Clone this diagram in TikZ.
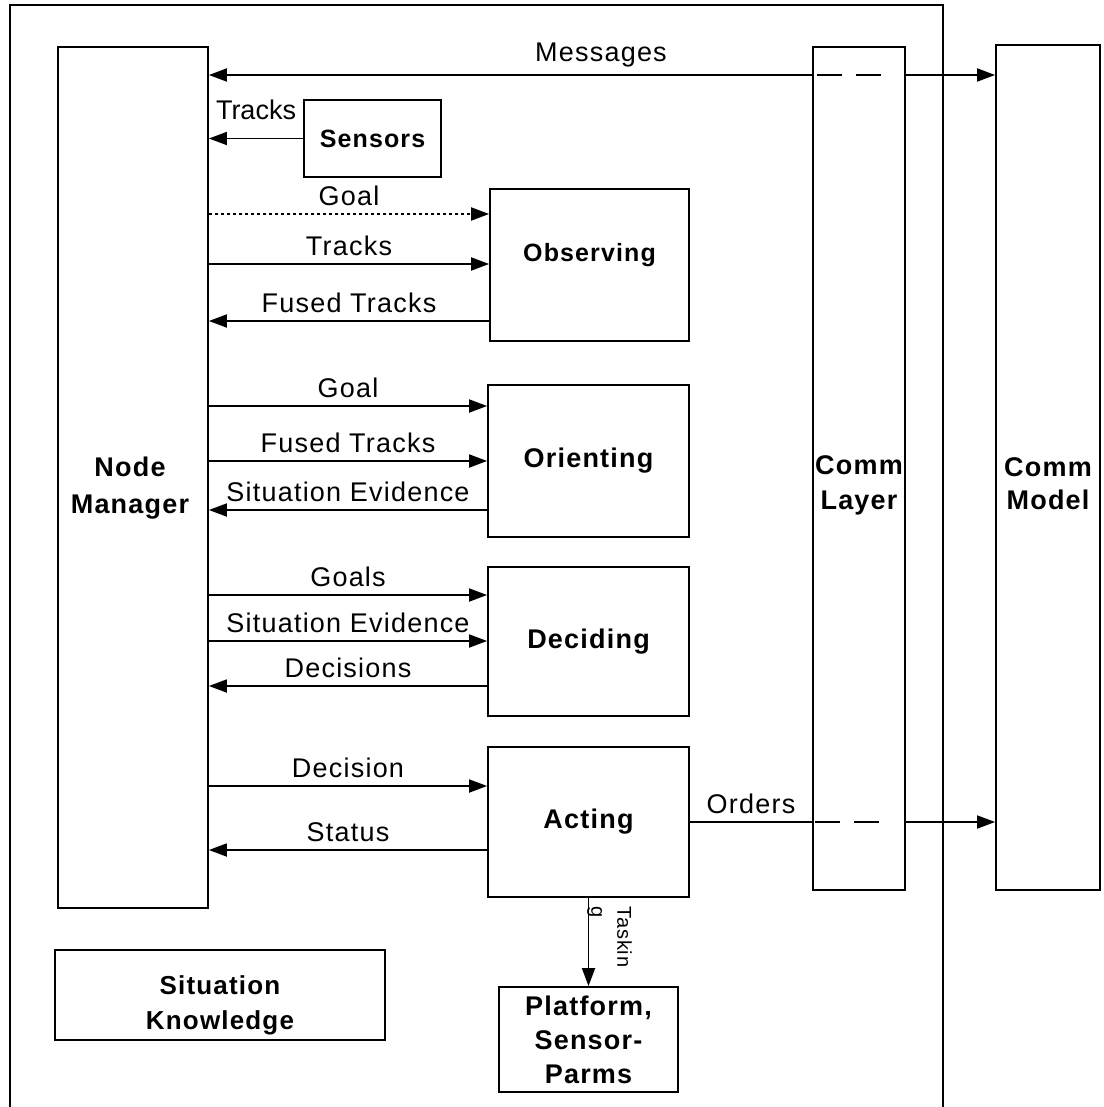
\documentclass[tikz,border=0pt]{standalone}
\usepackage{fontspec}
\setmainfont{Liberation Sans}[LetterSpace=4.5]
\usetikzlibrary{arrows.meta,positioning}

\tikzset{
  unit/.style={draw, line width=1.8pt, inner sep=0pt, align=center,
    font=\fontsize{27}{36}\selectfont\bfseries},
  flow/.style={line width=1.8pt, -{Triangle[length=18pt,width=13pt]}},
  wire/.style={line width=1.8pt},
  hidden/.style={line width=1.8pt, dash pattern=on 25pt off 14pt},
  lbl/.style={above=3pt, inner sep=4pt, font=\fontsize{27}{32}\selectfont},
}

\begin{document}
\begin{tikzpicture}[x=1pt,y=-1pt]
  \useasboundingbox (0,0) rectangle (1103,1107);

  % frame of the node
  \draw[wire] (10,1107) |- (943,5) -- (943,1107);

  % modules
  \node[unit, minimum width=150pt, minimum height=861pt,
    label={[align=center, font=\fontsize{27}{37}\selectfont\bfseries, xshift=-3pt, yshift=-11pt]center:{Node\\Manager}}]
    (mgr) at (133,477.5) {};
  \node[unit, minimum width=137pt, minimum height=77pt, font=\fontsize{25}{30}\selectfont\bfseries]
    (sens) at (372.5,138.5) {Sensors};
  \node[unit, minimum width=199pt, minimum height=152pt,
    label={[font=\fontsize{25}{30}\selectfont\bfseries, yshift=10pt]center:Observing}]
    (obs) at (589.5,265) {};
  \node[unit, minimum width=201pt, minimum height=152pt] (ori) at (588.5,461) {Orienting};
  \node[unit, minimum width=201pt, minimum height=149pt] (dec) at (588.5,641.5) {Deciding};
  \node[unit, minimum width=201pt, minimum height=150pt] (act) at (588.5,822) {Acting};
  \node[unit, minimum width=92pt, minimum height=843pt,
    label={[align=center, font=\fontsize{27}{35}\selectfont\bfseries, yshift=-17pt]center:{Comm\\Layer}}]
    (layer) at (859,468.5) {};
  \node[unit, minimum width=104pt, minimum height=845pt,
    label={[align=center, font=\fontsize{27}{33}\selectfont\bfseries, yshift=-16pt]center:{Comm\\Model}}]
    (model) at (1048,467.5) {};
  \node[unit, minimum width=330pt, minimum height=90pt,
    label={[align=center, font=\fontsize{26}{35}\selectfont\bfseries, yshift=-10pt]center:{Situation\\Knowledge}}]
    (know) at (220,995) {};
  \node[unit, minimum width=179pt, minimum height=105pt, font=\fontsize{27}{34}\selectfont\bfseries]
    (plat) at (588.5,1039.5) {Platform,\\Sensor-\\Parms};

  % messages through the comm layer
  \draw[wire, {Triangle[length=18pt,width=13pt]}-] (mgr.east |- 0,75) -- (layer.west |- 0,75)
    node[lbl, pos=0.65] {Messages};
  \draw[hidden] ([xshift=5pt]layer.west |- 0,75) -- ([xshift=-23pt]layer.east |- 0,75);
  \draw[flow] (layer.east |- 0,75) -- (model.west |- 0,75);

  % sensors
  \draw[flow] (sens.west) -- (sens.west -| mgr.east)
    node[lbl, midway, above=14pt, font=\fontsize{27}{32}\selectfont\addfontfeature{LetterSpace=0}] {Tracks};

  % observing
  \draw[flow, dash pattern=on 3pt off 3pt] (mgr.east |- 0,214) -- (obs.west |- 0,214) node[lbl, midway] {Goal};
  \draw[flow] (mgr.east |- 0,264) -- (obs.west |- 0,264) node[lbl, midway] {Tracks};
  \draw[flow] (obs.west |- 0,321) -- (mgr.east |- 0,321) node[lbl, midway] {Fused Tracks};

  % orienting
  \draw[flow] (mgr.east |- 0,406) -- (ori.west |- 0,406) node[lbl, midway] {Goal};
  \draw[flow] (mgr.east |- 0,461) -- (ori.west |- 0,461) node[lbl, midway] {Fused Tracks};
  \draw[flow] (ori.west |- 0,510) -- (mgr.east |- 0,510) node[lbl, midway] {Situation Evidence};

  % deciding
  \draw[flow] (mgr.east |- 0,595) -- (dec.west |- 0,595) node[lbl, midway] {Goals};
  \draw[flow] (mgr.east |- 0,641) -- (dec.west |- 0,641) node[lbl, midway] {Situation Evidence};
  \draw[flow] (dec.west |- 0,686) -- (mgr.east |- 0,686) node[lbl, midway] {Decisions};

  % acting
  \draw[flow] (mgr.east |- 0,786) -- (act.west |- 0,786) node[lbl, midway] {Decision};
  \draw[flow] (act.west |- 0,850) -- (mgr.east |- 0,850) node[lbl, midway] {Status};

  % orders through the comm layer
  \draw[wire] (act.east) -- (act.east -| layer.west) node[lbl, midway] {Orders};
  \draw[hidden] ([xshift=3pt]act.east -| layer.west) -- ([xshift=-25pt]act.east -| layer.east);
  \draw[flow] (act.east -| layer.east) -- (act.east -| model.west);

  % tasking
  \draw[flow] (act.south) -- (plat.north);
  \node[rotate=-90, anchor=north west, align=left, inner sep=0pt,
    font=\fontsize{20}{26}\selectfont] (task) at (632,906) {Taskin\\g};
\end{tikzpicture}
\end{document}
